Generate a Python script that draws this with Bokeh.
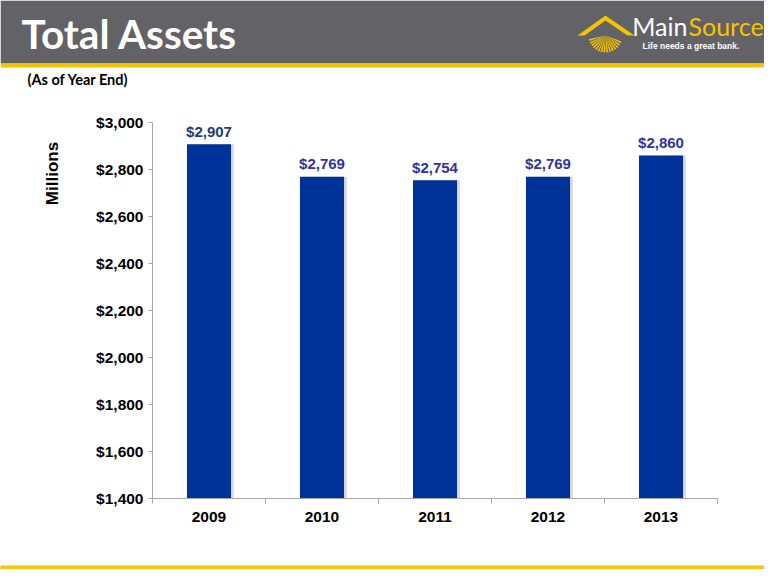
import math
from bokeh.plotting import figure
from bokeh.layouts import column, row
from bokeh.models import (ColumnDataSource, Range1d, FixedTicker, NumeralTickFormatter)
from bokeh.core.properties import value
from bokeh.transform import dodge
from bokeh.embed import file_html
from bokeh.resources import INLINE

# ---- data ----
years = ["2009", "2010", "2011", "2012", "2013"]
assets = [2907, 2769, 2754, 2769, 2860]
y_ticks = [1400, 1600, 1800, 2000, 2200, 2400, 2600, 2800, 3000]
title_text = "Total Assets"
subtitle_text = "(As of Year End)"
axis_title = "Millions"

W = 764
GRAY = "#626267"
GOLD = "#F5C400"


def no_align(fig):
    if "frame_align" in fig.properties():
        fig.frame_align = False


def deco_fig(w, h, xr, yr, bg="white"):
    f = figure(width=w, height=h, x_range=xr, y_range=yr, output_backend="svg",
               toolbar_location=None, min_border=0, outline_line_color=None,
               background_fill_color=bg, border_fill_color=bg)
    f.axis.visible = False
    f.grid.visible = False
    no_align(f)
    return f


# ---- header (pixel coordinates, y downward) ----
HH = 100
hdr = deco_fig(W, HH, Range1d(0, W), Range1d(HH, 0))
hdr.quad(left=[0], right=[W], top=[0], bottom=[63], color=GRAY, line_color=None)
hdr.quad(left=[0], right=[W], top=[63], bottom=[67], color=GOLD, line_color=None)
hdr.text(x=[21], y=[33], text=[title_text], text_color="white", text_font=value("Lato"),
         text_font_style="bold", text_font_size="40.5px", text_baseline="middle")
# logo mark
ray_angles = [math.radians(a) for a in range(196, 346, 10)]
hdr.wedge(x=[605] * len(ray_angles), y=[35] * len(ray_angles), radius=17,
          start_angle=[a - math.radians(3) for a in ray_angles],
          end_angle=[a + math.radians(3) for a in ray_angles],
          color=GOLD, line_color=None)
hdr.patch(x=[577, 605, 634, 627, 605, 584], y=[35, 15, 35, 35, 20, 35], color=GOLD, line_color=None)
hdr.text(x=[687], y=[25], text=["Main"], text_color="white", text_font=value("Lato"),
         text_font_size="25px", text_baseline="middle", text_align="right")
hdr.text(x=[688], y=[25], text=["Source"], text_color=GOLD, text_font=value("Lato"),
         text_font_size="25px", text_baseline="middle")
hdr.text(x=[642], y=[45.5], text=["Life needs a great bank."], text_color="white",
         text_font=value("Liberation Sans"), text_font_style="bold", text_font_size="8.5px",
         text_baseline="middle")
hdr.text(x=[27], y=[78.5], text=[subtitle_text], text_color="black", text_font=value("Lato"),
         text_font_style="bold", text_font_size="14.5px", text_baseline="middle")

# ---- left strip with the axis title ----
MH = 461
LW = 80
left = deco_fig(LW, MH, Range1d(0, LW), Range1d(MH, 0))
left.text(x=[52], y=[73], text=[axis_title], angle=math.pi / 2, text_align="center",
          text_baseline="middle", text_color="black", text_font=value("Liberation Sans"),
          text_font_style="bold", text_font_size="17px")

# ---- main chart ----
xs = [i + 0.5 for i in range(len(years))]
lab_pad = 55
src = ColumnDataSource(dict(
    x=xs, year=years, val=assets,
    lab_y=[v + lab_pad for v in assets],
    lab=["${:,}".format(v) for v in assets],
    col=["#1F3B73"] + ["#333399"] * (len(years) - 1),
))

p = figure(width=W - LW, height=MH, x_range=Range1d(0, len(years)),
           y_range=Range1d(y_ticks[0], y_ticks[-1]),
           output_backend="svg", toolbar_location=None,
           min_border_left=152 - LW, min_border_right=W - 717, min_border_top=22, min_border_bottom=MH - 398,
           outline_line_color=None, background_fill_color="white", border_fill_color="white")
p.grid.visible = False
no_align(p)

p.vbar(x=dodge("x", 0.025, range=p.x_range), top="val", bottom=y_ticks[0], width=0.39, source=src,
       fill_color="#D9D9D9", line_color=None)
p.vbar(x="x", top="val", bottom=y_ticks[0], width=0.39, source=src,
       fill_color="#003399", line_color=None)
p.text(x="x", y="lab_y", text="lab", source=src, text_color="col", text_align="center",
       text_baseline="middle", text_font=value("Liberation Sans"),
       text_font_style="bold", text_font_size="15px")

AX = "#A6A6A6"
yax = p.yaxis[0]
yax.ticker = FixedTicker(ticks=y_ticks)
yax.formatter = NumeralTickFormatter(format="$0,0")
yax.axis_line_color = AX
yax.major_tick_line_color = AX
yax.major_tick_in = 0
yax.major_tick_out = 4
yax.minor_tick_line_color = None
yax.major_label_standoff = 5
yax.major_label_text_font = "Liberation Sans"
yax.major_label_text_font_style = "bold"
yax.major_label_text_font_size = "15.5px"
yax.major_label_text_color = "black"

xax = p.xaxis[0]
xax.ticker = FixedTicker(ticks=xs, minor_ticks=list(range(len(years) + 1)))
xax.major_label_overrides = {x: y for x, y in zip(xs, years)}
xax.axis_line_color = AX
xax.major_tick_line_color = None
xax.major_tick_in = 0
xax.major_tick_out = 0
xax.minor_tick_line_color = AX
xax.minor_tick_in = 0
xax.minor_tick_out = 5
xax.major_label_standoff = 8
xax.major_label_text_font = "Liberation Sans"
xax.major_label_text_font_style = "bold"
xax.major_label_text_font_size = "15.5px"
xax.major_label_text_color = "black"

# ---- footer ----
FH = 569 - HH - MH
ftr = deco_fig(W, FH, Range1d(0, 1), Range1d(0, 1), bg="#F9C80E")
ftr.quad(left=[0], right=[1], bottom=[0], top=[1], color="#F9C80E", line_color=None)

layout = column(hdr, row(left, p, spacing=0), ftr, spacing=0)
open("out.html", "w").write(file_html(layout, INLINE))
